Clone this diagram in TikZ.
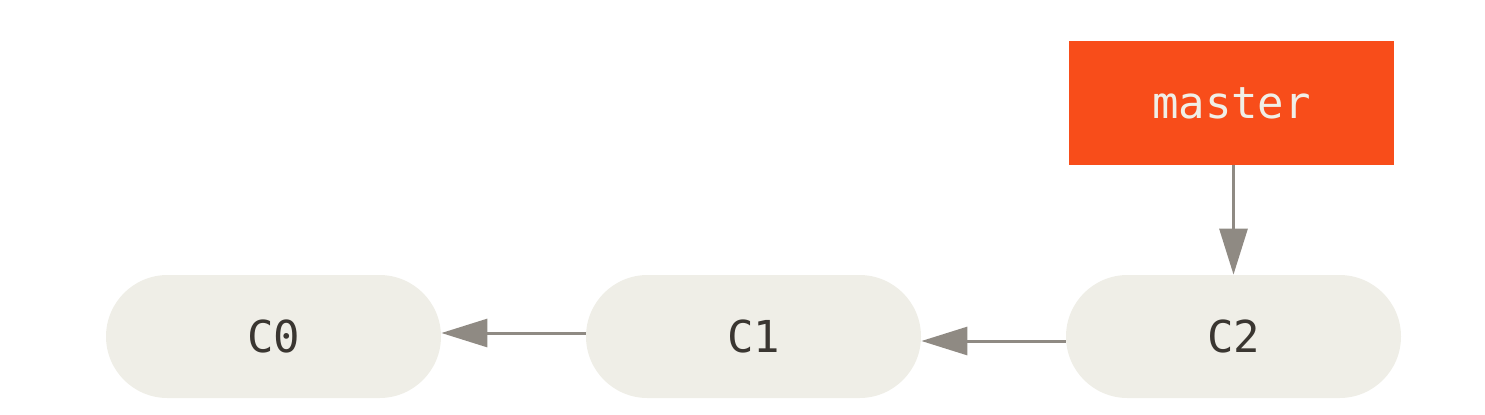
\documentclass[tikz,border=0pt]{standalone}
\usepackage{fontspec}
\setmonofont{DejaVu Sans Mono}
\usetikzlibrary{arrows.meta}
\definecolor{commitfill}{HTML}{EFEEE7}
\definecolor{branchfill}{HTML}{F84D1A}
\definecolor{arrowgray}{HTML}{8F8A83}
\definecolor{textdark}{HTML}{3A3631}
\definecolor{textlight}{HTML}{F0EFE7}
\tikzset{
  commit/.style={fill=commitfill, draw=none, rounded corners=30.75pt,
    minimum width=167.5pt, minimum height=61.5pt, inner sep=0pt,
    font=\ttfamily\fontsize{22}{26}\selectfont, text=textdark},
  branch/.style={fill=branchfill, draw=none,
    minimum width=162.5pt, minimum height=62pt, inner sep=0pt,
    font=\ttfamily\fontsize{22}{26}\selectfont, text=textlight},
  link/.style={draw=arrowgray, line width=1.5pt,
    -{Triangle[length=23pt,width=14pt]}}
}
\begin{document}
\begin{tikzpicture}[x=0.5pt,y=-0.5pt]
\useasboundingbox (0,0) rectangle (1485,414);
\node[commit] (c0) at (273.5,336.5) {C0};
\node[commit] (c1) at (753.5,336.5) {C1};
\node[commit] (c2) at (1233.5,336.5) {C2};
\node[branch] (master) at (1231.5,103) {master};
\draw[link] ([yshift=1.75pt]c1.west) -- ([yshift=1.75pt]c0.east);
\draw[link] ([yshift=-2.25pt]c2.west) -- ([yshift=-2.25pt]c1.east);
\draw[link] (master.south -| c2.north) -- (c2.north);
\end{tikzpicture}
\end{document}
